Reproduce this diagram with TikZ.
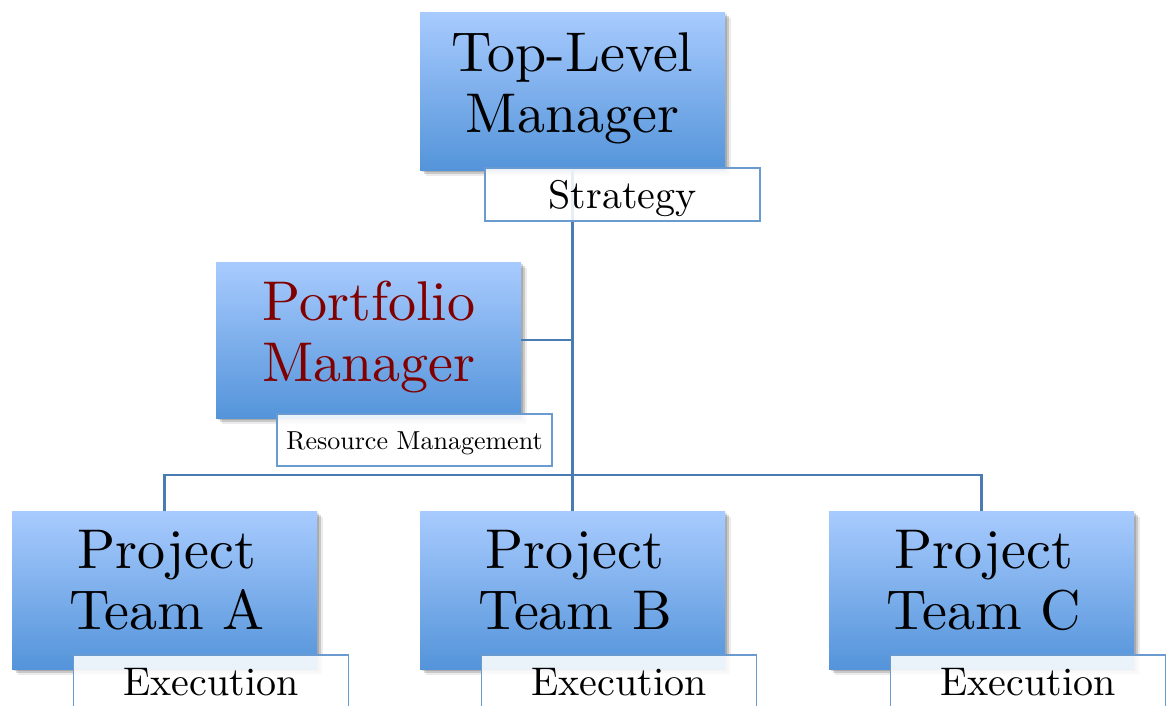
\documentclass[tikz,border=0pt]{standalone}
\usepackage{fontspec}
\setmainfont{lmroman10-regular}[Extension=.otf]
\usetikzlibrary{shadows}
\definecolor{boxtop}{RGB}{168,203,254}
\definecolor{boxbot}{RGB}{84,148,218}
\definecolor{linkblue}{RGB}{74,123,179}
\definecolor{labelblue}{RGB}{106,155,208}
\definecolor{pfred}{RGB}{128,0,0}
\tikzset{
  bigbox/.style={rectangle, inner sep=0pt, minimum width=305pt, minimum height=158pt,
    top color=boxtop, bottom color=boxbot, draw=none,
    general shadow={shadow xshift=2pt, shadow yshift=-2pt, fill=black, opacity=0.15},
    general shadow={shadow xshift=4pt, shadow yshift=-4pt, fill=black, opacity=0.15},
    general shadow={shadow xshift=6pt, shadow yshift=-6pt, fill=black, opacity=0.08}},
  bigtext/.style={inner sep=0pt, align=center, anchor=north, font=\fontsize{56}{61}\selectfont},
  labelbox/.style={rectangle, inner sep=0pt, draw=labelblue, line width=1.6pt,
    fill=white, fill opacity=0.88, text opacity=1, minimum width=275pt, minimum height=53pt,
    font=\fontsize{40}{44}\selectfont, text height=27pt, text depth=0pt},
  link/.style={draw=linkblue, line width=2.3pt}
}
\begin{document}
\begin{tikzpicture}[x=1pt,y=-1pt]
\useasboundingbox (0,0) rectangle (1170,705);
% main boxes
\node[bigbox] (top) at (572.5,91) {};
\node[bigbox, minimum height=156pt] (port) at (368.5,340) {};
\node[bigbox] (pa) at (164.5,590) {};
\node[bigbox] (pb) at (572.5,590) {};
\node[bigbox] (pc) at (981.5,590) {};
% texts
\node[bigtext] (topT) at (572.5,32) {Top-Level\\Manager};
\node[bigtext, text=pfred] (portT) at (369,281) {Portfolio\\Manager};
\node[bigtext] (paT) at (167,530) {Project\\Team A};
\node[bigtext] (pbT) at (575,530) {Project\\Team B};
\node[bigtext] (pcT) at (984,530) {Project\\Team C};
% connectors
\path (top.south) ++(0,305) coordinate (hub);
\draw[link] (top.south) -- (hub);
\draw[link] (port.east) -- (port.east -| top.south);
\draw[link] (hub) -| (pa.north);
\draw[link] (hub) -| (pc.north);
\draw[link] (hub) -- (pb.north);
% label boxes
\node[labelbox] (strat) at (622.5,194.5) {Strategy};
\node[labelbox, minimum height=52pt, font=\fontsize{26}{30}\selectfont, text height=18pt] (res) at (414.5,440) {Resource Management};
\node[labelbox] (exA) at (211,681.5) {Execution};
\node[labelbox] (exB) at (619,681.5) {Execution};
\node[labelbox] (exC) at (1028,681.5) {Execution};
\end{tikzpicture}
\end{document}
